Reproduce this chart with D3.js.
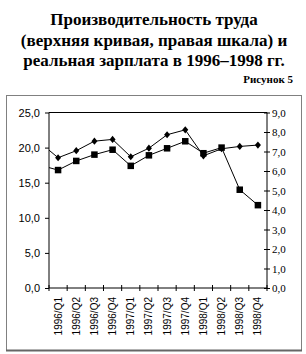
<!DOCTYPE html>
<html lang="ru">
<head>
  <meta charset="UTF-8">
  <title>Производительность труда и реальная зарплата</title>
  <script src="https://d3js.org/d3.v7.js"></script>
  <style>
    body {
      margin: 0;
      background-color: #fff;
    }
    #chart text {
      fill: #000;
    }
    .title {
      font-family: "Liberation Serif", "Times New Roman", serif;
      font-weight: bold;
      font-size: 17px;
    }
    .fig-label {
      font-family: "Liberation Serif", "Times New Roman", serif;
      font-weight: bold;
      font-size: 11px;
    }
    .axis-left text, .axis-x text {
      font-family: "Liberation Sans", Arial, sans-serif;
    }
    .axis-right text {
      font-family: "Liberation Serif", "Times New Roman", serif;
    }
  </style>
</head>
<body>
  <svg id="chart"></svg>

  <script>
    const titleLines = [
      "Производительность труда",
      "(верхняя кривая, правая шкала) и",
      "реальная зарплата в 1996–1998 гг."
    ];
    const figLabel = "Рисунок 5";

    const quarters = [
      "1996/Q1", "1996/Q2", "1996/Q3", "1996/Q4",
      "1997/Q1", "1997/Q2", "1997/Q3", "1997/Q4",
      "1998/Q1", "1998/Q2", "1998/Q3", "1998/Q4"
    ];
    // real wage, left scale (squares)
    const wage = [16.8, 18.1, 19.0, 19.7, 17.4, 18.9, 19.9, 20.9, 19.2, 20.0, 14.0, 11.8];
    // labour productivity, right scale (diamonds)
    const productivity = [6.68, 7.04, 7.53, 7.62, 6.73, 7.17, 7.86, 8.11, 6.78, 7.14, 7.26, 7.33];
    // the quarter before 1996/Q1, only its line stub shows inside the plot
    const wagePrev = 17.5;
    const productivityPrev = 7.46;

    const leftTicks = [0, 5, 10, 15, 20, 25];
    const rightTicks = [0, 1, 2, 3, 4, 5, 6, 7, 8, 9];

    const width = 306;
    const height = 354;
    const plot = { left: 49, right: 267, top: 112.5, bottom: 288 };

    const svg = d3.select("#chart")
      .attr("width", width)
      .attr("height", height);

    // outer frame
    svg.append("rect")
      .attr("x", 6.5).attr("y", 95.5)
      .attr("width", 295).attr("height", 255)
      .attr("fill", "none")
      .attr("stroke", "#808080");
    svg.append("line")
      .attr("x1", 6).attr("x2", 302)
      .attr("y1", 350.5).attr("y2", 350.5)
      .attr("stroke", "#666")
      .attr("stroke-width", 2);

    // title
    svg.append("text")
      .attr("class", "title")
      .attr("text-anchor", "middle")
      .selectAll("tspan")
      .data(titleLines)
      .join("tspan")
      .attr("x", 154)
      .attr("y", (d, i) => 25 + i * 20.5)
      .text(d => d);

    svg.append("text")
      .attr("class", "fig-label")
      .attr("x", 293)
      .attr("y", 83)
      .attr("text-anchor", "end")
      .text(figLabel);

    const x = d3.scalePoint()
      .domain(quarters)
      .range([plot.left, plot.right])
      .padding(0.5);

    const yLeft = d3.scaleLinear().domain([0, 25]).range([plot.bottom, plot.top]);
    const yRight = d3.scaleLinear().domain([0, 9]).range([plot.bottom, plot.top]);

    const fmt = v => d3.format(".1f")(v).replace(".", ",");

    // plot box top line
    svg.append("line")
      .attr("x1", plot.left).attr("x2", plot.right)
      .attr("y1", plot.top).attr("y2", plot.top)
      .attr("stroke", "#000");

    // left axis
    const gLeft = svg.append("g")
      .attr("class", "axis-left")
      .attr("transform", `translate(${plot.left},0)`)
      .call(d3.axisLeft(yLeft).tickValues(leftTicks).tickFormat(fmt).tickSize(4).tickPadding(5));
    gLeft.select(".domain").attr("d", `M0,${plot.top}V${plot.bottom}`);
    gLeft.selectAll("text").attr("font-size", 11);

    // right axis, ticks cross the line
    const gRight = svg.append("g")
      .attr("class", "axis-right")
      .attr("transform", `translate(${plot.right},0)`)
      .call(d3.axisRight(yRight).tickValues(rightTicks).tickFormat(fmt).tickSize(3).tickPadding(2));
    gRight.select(".domain").attr("d", `M0,${plot.top}V${plot.bottom}`);
    gRight.selectAll(".tick line").attr("x1", -3);
    gRight.selectAll("text").attr("font-size", 11);

    // x axis: ticks at category boundaries, crossing the line
    const gX = svg.append("g")
      .attr("class", "axis-x")
      .attr("transform", `translate(0,${plot.bottom})`);
    gX.append("line")
      .attr("x1", plot.left).attr("x2", plot.right)
      .attr("stroke", "#000");
    const bounds = d3.range(quarters.length + 1)
      .map(i => x(quarters[0]) - x.step() / 2 + i * x.step());
    gX.selectAll("line.tick")
      .data(bounds)
      .join("line")
      .attr("class", "tick")
      .attr("x1", d => d).attr("x2", d => d)
      .attr("y1", -3).attr("y2", 3)
      .attr("stroke", "#000");
    gX.selectAll("text")
      .data(quarters)
      .join("text")
      .attr("transform", d => `translate(${x(d)},9) rotate(-90)`)
      .attr("text-anchor", "end")
      .attr("dy", "0.35em")
      .attr("font-size", 10)
      .text(d => d);

    // clip the series to the plot box
    svg.append("clipPath")
      .attr("id", "plot-clip")
      .append("rect")
      .attr("x", plot.left).attr("y", plot.top - 10)
      .attr("width", plot.right - plot.left)
      .attr("height", plot.bottom - plot.top + 10);

    const prevX = x(quarters[0]) - x.step();

    const wagePts = [[prevX, yLeft(wagePrev)]]
      .concat(quarters.map((q, i) => [x(q), yLeft(wage[i])]));
    const prodPts = [[prevX, yRight(productivityPrev)]]
      .concat(quarters.map((q, i) => [x(q), yRight(productivity[i])]));

    const line = d3.line();
    const series = svg.append("g").attr("clip-path", "url(#plot-clip)");

    series.append("path")
      .attr("d", line(wagePts))
      .attr("fill", "none")
      .attr("stroke", "#000")
      .attr("stroke-width", 1);

    series.append("path")
      .attr("d", line(prodPts))
      .attr("fill", "none")
      .attr("stroke", "#000")
      .attr("stroke-width", 1);

    // markers
    svg.append("g")
      .selectAll("rect")
      .data(quarters)
      .join("rect")
      .attr("x", (d, i) => x(d) - 3.25)
      .attr("y", (d, i) => yLeft(wage[i]) - 3.25)
      .attr("width", 6.5)
      .attr("height", 6.5)
      .attr("fill", "#000");

    svg.append("g")
      .selectAll("path")
      .data(quarters)
      .join("path")
      .attr("transform", (d, i) => `translate(${x(d)},${yRight(productivity[i])})`)
      .attr("d", "M0,-3.6L3,0L0,3.6L-3,0Z")
      .attr("fill", "#000");
  </script>
</body>
</html>
